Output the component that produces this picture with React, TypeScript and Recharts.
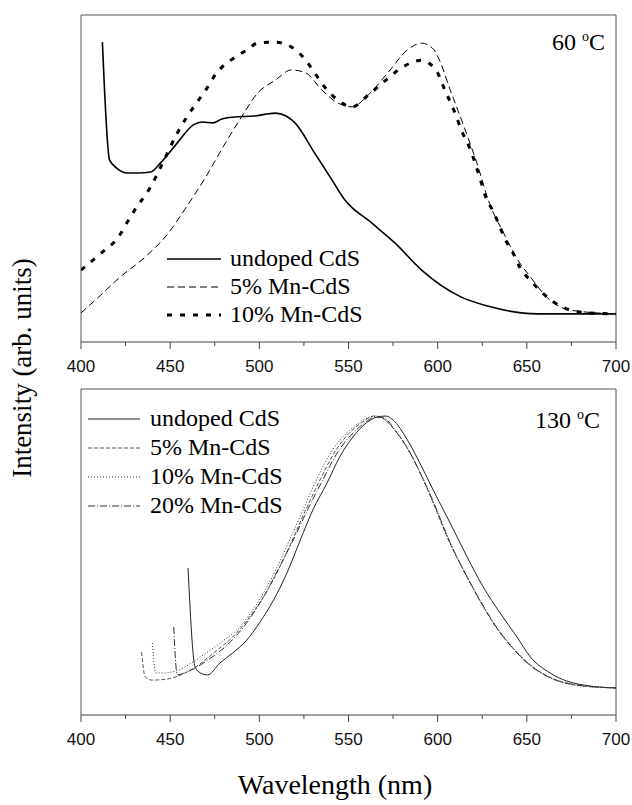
import { LineChart, Line, XAxis, YAxis, ReferenceLine, Legend } from 'recharts'

type Pt = [number, number]

const WAVE_TICKS = [400, 425, 450, 475, 500, 525, 550, 575, 600, 625, 650, 675, 700]

// 60 °C panel, [wavelength nm, intensity arb.]
const undoped60: Pt[] = [
  [412, 91.7], [416, 55.7], [420, 53.2], [426, 51.7], [432, 51.7], [439, 52.0],
  [445, 55.0], [454, 60.9], [463, 66.4], [468, 67.3], [474, 67.0], [479, 68.2],
  [486, 68.8], [497, 69.1], [509, 70.0], [515, 69.1], [520, 67.0], [531, 57.8],
  [540, 50.2], [548, 43.4], [563, 36.4], [576, 30.3], [591, 22.0], [613, 13.8],
  [628, 11.0], [656, 8.6], [700, 8.6],
]
const mn5_60: Pt[] = [
  [400, 8.9], [410, 13.8], [422, 19.9], [436, 26.0], [449, 33.3], [458, 40.4],
  [470, 50.5], [481, 60.9], [490, 68.8], [499, 76.1], [509, 80.1], [518, 83.2],
  [526, 82.3], [535, 77.1], [544, 73.1], [552, 71.9], [561, 75.5], [572, 82.3],
  [583, 89.3], [591, 91.4], [597, 89.9], [601, 86.2], [607, 77.1], [614, 67.0],
  [622, 54.7], [629, 42.5], [637, 33.3], [646, 24.2], [652, 19.9], [661, 13.8],
  [674, 9.8], [700, 8.6],
]
const mn10_60: Pt[] = [
  [400, 22.0], [412, 27.5], [421, 32.1], [426, 36.7], [432, 41.9], [437, 45.6],
  [442, 50.5], [446, 55.0], [454, 63.9], [459, 68.5], [464, 72.5], [470, 77.1],
  [476, 82.3], [484, 86.2], [493, 89.3], [499, 91.4], [509, 91.7], [516, 90.8],
  [526, 86.2], [531, 82.3], [537, 77.7], [544, 74.0], [552, 71.9], [561, 75.5],
  [571, 80.1], [578, 83.2], [586, 85.6], [591, 86.2], [595, 85.3], [600, 82.3],
  [604, 77.1], [609, 71.0], [614, 63.9], [618, 59.3], [621, 54.7], [624, 49.5],
  [627, 44.3], [631, 40.0], [634, 36.4], [638, 31.2], [642, 27.5], [646, 22.9],
  [653, 18.3], [660, 14.4], [670, 10.7], [684, 8.9], [700, 8.6],
]

// 130 °C panel
const undoped130: Pt[] = [
  [460, 45.1], [464, 14.7], [467, 12.9], [471, 12.3], [478, 16.0], [485, 19.0],
  [493, 23.0], [500, 28.2], [508, 35.3], [515.5, 43.6], [523, 53.7], [530, 62.9],
  [538, 71.2], [545, 79.1], [552.5, 85.3], [560, 89.6], [566, 91.4], [571, 91.7],
  [575, 90.5], [583, 84.4], [590, 77.3], [597.5, 69.0], [607, 58.9], [616.5, 48.5],
  [625.5, 39.3], [635, 31.3], [644.5, 23.9], [652, 17.8], [663, 12.9], [681.5, 9.2],
  [700, 8.3],
]
const mn5_130: Pt[] = [
  [434, 19.3], [436, 11.7], [440, 10.7], [448, 11.0], [456, 12.3], [465, 15.0],
  [475, 19.3], [485, 23.9], [495, 30.4], [503, 36.8], [512, 46.0], [519, 54.3],
  [526, 62.9], [534, 72.1], [543, 81.3], [551, 86.8], [558, 89.9], [564, 91.7],
  [569, 91.1], [575, 88.0], [582, 82.8], [590, 74.5], [598, 64.4], [606, 53.7],
  [615, 43.9], [624, 34.7], [633, 26.7], [642, 20.6], [652, 15.3], [664, 11.3],
  [682, 8.9], [700, 8.3],
]
const mn10_130: Pt[] = [
  [440, 22.1], [442, 12.9], [446, 12.9], [455, 13.8], [462, 16.0], [467, 17.8],
  [478, 22.1], [489, 27.0], [500, 35.3], [510, 45.4], [517, 53.7], [524.5, 62.9],
  [532, 72.1], [541, 81.3], [549, 86.5], [556, 89.6], [562, 91.4], [566, 91.7],
  [572, 89.9], [580, 84.4], [588, 76.7], [596, 67.5], [604, 56.7], [613, 46.0],
  [622, 36.8], [631, 28.5], [640, 22.1], [650, 16.3], [662, 11.7], [680, 8.9],
  [700, 8.3],
]
const mn20_130: Pt[] = [
  [452, 27.0], [454, 12.3], [458, 12.9], [464, 14.4], [472, 17.2], [482, 21.5],
  [492, 27.6], [502, 35.9], [511, 45.1], [519, 53.7], [527, 62.9], [535, 71.5],
  [544, 80.7], [552, 86.2], [559, 89.6], [565, 91.4], [570, 91.1], [576, 87.4],
  [583, 81.9], [591, 73.3], [599, 63.5], [607, 52.8], [616, 42.9], [625, 34.0],
  [634, 26.1], [643, 19.9], [653, 14.7], [665, 11.0], [683, 8.9], [700, 8.3],
]

interface Series {
  name: string
  data: Pt[]
  color: string
  width: number
  dash?: string
}

const topSeries: Series[] = [
  { name: 'undoped CdS', data: undoped60, color: '#000', width: 1.6 },
  { name: '5% Mn-CdS', data: mn5_60, color: '#000', width: 1, dash: '7 4' },
  { name: '10% Mn-CdS', data: mn10_60, color: '#000', width: 3, dash: '5 8' },
]

const bottomSeries: Series[] = [
  { name: 'undoped CdS', data: undoped130, color: '#222', width: 1 },
  { name: '5% Mn-CdS', data: mn5_130, color: '#555', width: 1, dash: '4 2' },
  { name: '10% Mn-CdS', data: mn10_130, color: '#333', width: 1, dash: '1 2' },
  { name: '20% Mn-CdS', data: mn20_130, color: '#333', width: 1, dash: '7 2 1 2' },
]

const SERIF = '"Liberation Serif", "Times New Roman", serif'
const SANS = '"Liberation Sans", Arial, sans-serif'

const toRows = (pts: Pt[]) => pts.map(([w, v]) => ({ w, v }))

const WaveTick = (props: any) => {
  const { x, y, payload } = props
  const major = payload.value % 50 === 0
  return (
    <g>
      <line x1={x} x2={x} y1={y} y2={y + (major ? 7 : 4)} stroke="#444" />
      {major && (
        <text x={x} y={y + 30} textAnchor="middle" fontFamily={SANS} fontSize={17} fill="#111">
          {payload.value}
        </text>
      )}
    </g>
  )
}

interface LegendBoxProps {
  series: Series[]
  sampleX1: number
  sampleX2: number
  textX: number
  spacing: number
}

const LegendBox = ({ series, sampleX1, sampleX2, textX, spacing }: LegendBoxProps) => (
  <svg width={260} height={series.length * spacing + 12} style={{ display: 'block' }}>
    {series.map((s, i) => {
      const y = 16 + i * spacing
      return (
        <g key={s.name}>
          <line x1={sampleX1} x2={sampleX2} y1={y} y2={y} stroke={s.color}
            strokeWidth={s.width} strokeDasharray={s.dash} />
          <text x={textX} y={y + 7} fontFamily={SERIF} fontSize={24} fill="#000">
            {s.name}
          </text>
        </g>
      )
    })}
  </svg>
)

interface PanelProps {
  series: Series[]
  height: number
  marginTop: number
  axisHeight: number
  legendLeft: number
  legendTop: number
  legend: Omit<LegendBoxProps, 'series'>
}

const Panel = ({ series, height, marginTop, axisHeight, legendLeft, legendTop, legend }: PanelProps) => (
  <LineChart width={632} height={height} margin={{ top: marginTop, right: 16, bottom: 0, left: 81 }}>
    <XAxis
      type="number"
      dataKey="w"
      domain={[400, 700]}
      ticks={WAVE_TICKS}
      interval={0}
      tickLine={false}
      tickSize={0}
      tickMargin={0}
      height={axisHeight}
      stroke="#444"
      tick={(p: any) => <WaveTick {...p} />}
      allowDataOverflow
    />
    <YAxis hide domain={[0, 100]} allowDataOverflow />
    <ReferenceLine x={400} stroke="#555" />
    <ReferenceLine x={700} stroke="#555" />
    <ReferenceLine y={100} stroke="#555" />
    {series.map((s) => (
      <Line
        key={s.name}
        data={toRows(s.data)}
        dataKey="v"
        name={s.name}
        type="monotone"
        stroke={s.color}
        strokeWidth={s.width}
        strokeDasharray={s.dash}
        dot={false}
        activeDot={false}
        isAnimationActive={false}
      />
    ))}
    <Legend
      layout="horizontal"
      verticalAlign="middle"
      align="center"
      wrapperStyle={{ left: legendLeft, top: legendTop, width: 260 }}
      content={() => <LegendBox series={series} {...legend} />}
    />
  </LineChart>
)

export default function App() {
  return (
    <div style={{ position: 'absolute', left: 0, top: 0, width: 632, height: 805, background: '#fff' }}>
      <div style={{ position: 'absolute', left: 0, top: 0 }}>
        <Panel
          series={topSeries}
          height={380}
          marginTop={15}
          axisHeight={38}
          legendLeft={160}
          legendTop={243}
          legend={{ sampleX1: 7, sampleX2: 61, textX: 70, spacing: 28 }}
        />
      </div>
      <div style={{ position: 'absolute', left: 0, top: 380 }}>
        <Panel
          series={bottomSeries}
          height={425}
          marginTop={9}
          axisHeight={90}
          legendLeft={84}
          legendTop={23}
          legend={{ sampleX1: 4, sampleX2: 56, textX: 66, spacing: 29 }}
        />
      </div>
      <svg width={632} height={805} style={{ position: 'absolute', left: 0, top: 0, pointerEvents: 'none' }}>
        <text x={605} y={50} textAnchor="end" fontFamily={SERIF} fontSize={24} fill="#000">
          <tspan>60 </tspan>
          <tspan fontSize={14} dy={-9}>o</tspan>
          <tspan dy={9}>C</tspan>
        </text>
        <text x={600} y={428} textAnchor="end" fontFamily={SERIF} fontSize={24} fill="#000">
          <tspan>130 </tspan>
          <tspan fontSize={14} dy={-9}>o</tspan>
          <tspan dy={9}>C</tspan>
        </text>
        <text transform="translate(31,368) rotate(-90)" x={0} y={0} textAnchor="middle"
          fontFamily={SERIF} fontSize={27} fill="#000">
          Intensity (arb. units)
        </text>
        <text x={335} y={794} textAnchor="middle" fontFamily={SERIF} fontSize={28} fill="#000">
          Wavelength (nm)
        </text>
      </svg>
    </div>
  )
}
